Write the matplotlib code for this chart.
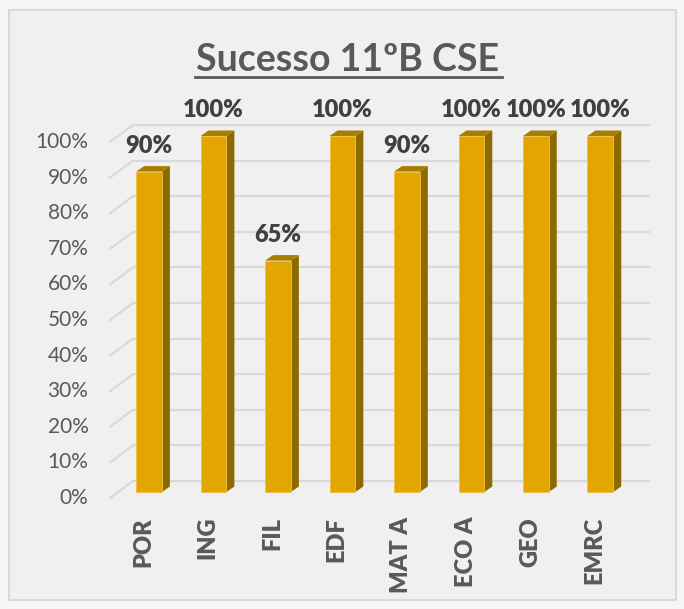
import matplotlib.pyplot as plt
from matplotlib.patches import Polygon, Rectangle

plt.rcParams['font.family'] = ['Lato', 'DejaVu Sans']

categories = ['POR', 'ING', 'FIL', 'EDF', 'MAT A', 'ECO A', 'GEO', 'EMRC']
values = [90, 100, 65, 100, 90, 100, 100, 100]
ticks = [0, 10, 20, 30, 40, 50, 60, 70, 80, 90, 100]
tick_labels = ['{}%'.format(t) for t in ticks]

front = '#e3a600'
side = '#8c6a00'
top = '#a97e00'
grid = '#d9d9d9'
text_gray = '#595959'

fig = plt.figure(figsize=(6.84, 6.09), dpi=100)
fig.patch.set_facecolor('#f6f6f6')
frame = Rectangle((9 / 684, 9 / 609), 667 / 684, 590 / 609, transform=fig.transFigure,
                  facecolor='#f0f0f0', edgecolor='#d9d9d9', lw=1.5, zorder=-5)
fig.add_artist(frame)

# axes: x unit = 64.5 px, y unit = 3.56 px per %
ax = fig.add_axes([110 / 684, (609 - 492) / 609, 540 / 684, 356 / 609])
ax.set_zorder(2)
ax.set_xlim(-0.605, 7.77)
ax.set_ylim(0, 100)
ax.axis('off')

dx = 8 / 64.5       # bar depth
dy = 5.5 / 3.56
gx0 = -0.248        # back wall left
gy = 11 / 3.56      # back wall lift
fy = -6 / 3.56      # floor front drop

for t, lab in zip(ticks, tick_labels):
    ax.plot([gx0, 7.75], [t + gy, t + gy], color=grid, lw=1.6, zorder=1, clip_on=False)
    ax.plot([-0.605, gx0], [t + fy, t + gy], color=grid, lw=1.6, zorder=1, clip_on=False)
    ax.text(-0.94, t + fy, lab, ha='right', va='center', fontsize=15, color=text_gray)

w = 0.2
for i, (c, v) in enumerate(zip(categories, values)):
    ax.add_patch(Polygon([(i + w, 0), (i + w + dx, dy), (i + w + dx, v + dy), (i + w, v)],
                         closed=True, facecolor=side, edgecolor='none', zorder=3, clip_on=False))
    ax.add_patch(Polygon([(i - w, v), (i + w, v), (i + w + dx, v + dy), (i - w + dx, v + dy)],
                         closed=True, facecolor=top, edgecolor='none', zorder=3, clip_on=False))
    ax.add_patch(Rectangle((i - w, 0), 2 * w, v, facecolor=front, edgecolor='#f0c040',
                           lw=0.6, zorder=4, clip_on=False))
    ax.text(i, v + 7.3, '{}%'.format(v), ha='center', va='center', fontsize=17,
            fontweight='heavy', color='#404040', clip_on=False)
    ax.text(i - 0.09, -7, c, ha='center', va='top', rotation=90, fontsize=17,
            fontweight='heavy', color=text_gray, clip_on=False)

fig.text(348 / 684, 1 - 60 / 609, 'Sucesso 11ºB CSE', ha='center', va='center',
         fontsize=27, fontweight='bold', color=text_gray)
fig.add_artist(plt.Line2D([195 / 684, 502 / 684], [1 - 77 / 609, 1 - 77 / 609],
                          color=text_gray, lw=2))

fig.savefig('out.png', dpi=100, facecolor=fig.get_facecolor())
